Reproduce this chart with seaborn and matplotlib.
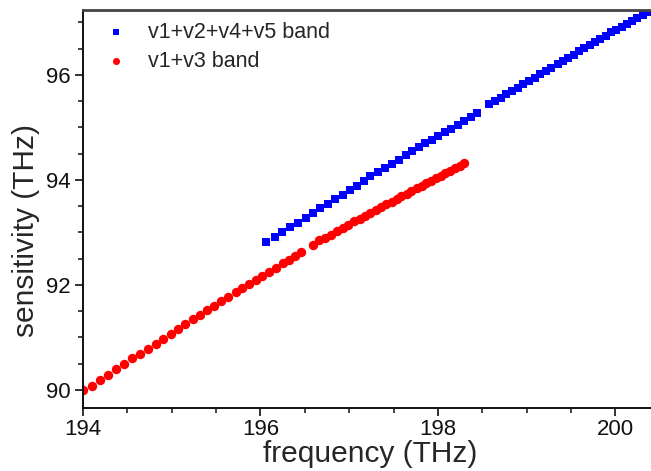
import pandas as pd
import matplotlib
matplotlib.use('Agg')
import matplotlib.pyplot as plt
import seaborn as sns
from matplotlib.ticker import MultipleLocator

sns.set_style('ticks')
plt.rcParams['font.family'] = ['Liberation Sans', 'DejaVu Sans']

# v1+v2+v4+v5 band (blue squares)
blue_freq = [196.06, 196.16, 196.24, 196.33, 196.42, 196.51, 196.59, 196.67, 196.76, 196.84,
             196.93, 197.01, 197.09, 197.17, 197.24, 197.32, 197.40, 197.48, 197.56, 197.64,
             197.71, 197.79, 197.86, 197.93, 198.00, 198.08, 198.15, 198.23, 198.30, 198.37,
             198.44,
             198.58, 198.64, 198.71, 198.77, 198.84, 198.90, 198.96, 199.03, 199.09, 199.15,
             199.22, 199.28, 199.35, 199.41, 199.47, 199.53, 199.59, 199.65, 199.71, 199.77,
             199.83, 199.89, 199.95, 200.01, 200.07, 200.13, 200.19, 200.25, 200.31, 200.36]
blue_sens = [92.81, 92.92, 93.01, 93.10, 93.19, 93.28, 93.37, 93.46, 93.55, 93.64,
             93.72, 93.81, 93.89, 93.98, 94.07, 94.15, 94.23, 94.31, 94.39, 94.47,
             94.55, 94.62, 94.70, 94.77, 94.84, 94.91, 94.98, 95.05, 95.13, 95.20,
             95.27,
             95.45, 95.51, 95.57, 95.63, 95.70, 95.76, 95.82, 95.89, 95.95, 96.02,
             96.08, 96.14, 96.21, 96.27, 96.33, 96.39, 96.45, 96.51, 96.57, 96.63,
             96.69, 96.75, 96.81, 96.86, 96.92, 96.97, 97.03, 97.08, 97.14, 97.20]

# v1+v3 band (red circles)
red_freq = [194.00, 194.10, 194.19, 194.28, 194.37, 194.46, 194.55, 194.64, 194.73, 194.82,
            194.90, 194.99, 195.07, 195.15, 195.24, 195.32, 195.40, 195.48, 195.56, 195.64,
            195.72, 195.79, 195.87, 195.95, 196.02, 196.10, 196.17, 196.25, 196.32, 196.39,
            196.46,
            196.59, 196.66, 196.73, 196.79, 196.86, 196.93, 196.99, 197.05, 197.12, 197.18,
            197.24, 197.30, 197.36, 197.42, 197.48, 197.54, 197.59, 197.65, 197.70, 197.76,
            197.82, 197.87, 197.92, 197.98, 198.03, 198.08, 198.14, 198.19, 198.25, 198.30]
red_sens = [90.00, 90.08, 90.19, 90.28, 90.40, 90.50, 90.60, 90.69, 90.79, 90.88,
            90.98, 91.07, 91.16, 91.25, 91.35, 91.43, 91.52, 91.60, 91.69, 91.78,
            91.86, 91.94, 92.02, 92.10, 92.18, 92.25, 92.32, 92.41, 92.48, 92.55,
            92.62,
            92.77, 92.85, 92.90, 92.96, 93.02, 93.08, 93.15, 93.21, 93.26, 93.31,
            93.37, 93.43, 93.48, 93.54, 93.59, 93.64, 93.69, 93.74, 93.79, 93.84,
            93.89, 93.94, 93.99, 94.03, 94.08, 94.13, 94.18, 94.22, 94.27, 94.32]

blue = pd.DataFrame({'freq': blue_freq, 'sens': blue_sens})
red = pd.DataFrame({'freq': red_freq, 'sens': red_sens})

fig = plt.figure(figsize=(6.51, 4.71), dpi=100)
fig.set_facecolor('white')
# axes runs a little past the right edge, like the cropped original
ax = fig.add_axes([83 / 651, 63 / 471, 574 / 651, 398 / 471])

sns.scatterplot(data=blue, x='freq', y='sens', marker='s', s=36, color='#0000ff',
                linewidth=0, label='v1+v2+v4+v5 band', ax=ax)
sns.scatterplot(data=red, x='freq', y='sens', marker='o', s=46, color='#ff0000',
                linewidth=0, label='v1+v3 band', ax=ax)

ax.set_xlim(194, 200.47)
ax.set_ylim(89.657, 97.238)

ax.xaxis.set_major_locator(MultipleLocator(2))
ax.xaxis.set_minor_locator(MultipleLocator(0.5))
ax.yaxis.set_major_locator(MultipleLocator(2))
ax.yaxis.set_minor_locator(MultipleLocator(0.5))

ax.tick_params(which='major', direction='out', length=6, width=1.2, labelsize=16,
               colors='#111111')
ax.tick_params(axis='y', which='major', pad=3)
ax.tick_params(axis='x', which='major', pad=2)
ax.tick_params(which='minor', direction='out', length=3.5, width=1.1, colors='#111111')

for side in ['left', 'bottom']:
    ax.spines[side].set_linewidth(1.4)
    ax.spines[side].set_color('#111111')
ax.spines['top'].set_linewidth(2)
ax.spines['top'].set_color('#444444')

ax.set_xlabel('frequency (THz)', fontsize=21.5, labelpad=0)
ax.set_ylabel('sensitivity (THz)', fontsize=21.5, labelpad=4)
ax.yaxis.label.set_y(0.445)

ax.legend(loc='upper left', bbox_to_anchor=(105 / 651, 1 - 22 / 471),
          bbox_transform=fig.transFigure, frameon=False, fontsize=15.5,
          handlelength=1.0, handletextpad=1.0, labelspacing=0.35,
          borderpad=0, borderaxespad=0, markerscale=0.75)

fig.savefig('out.png', dpi=100)
